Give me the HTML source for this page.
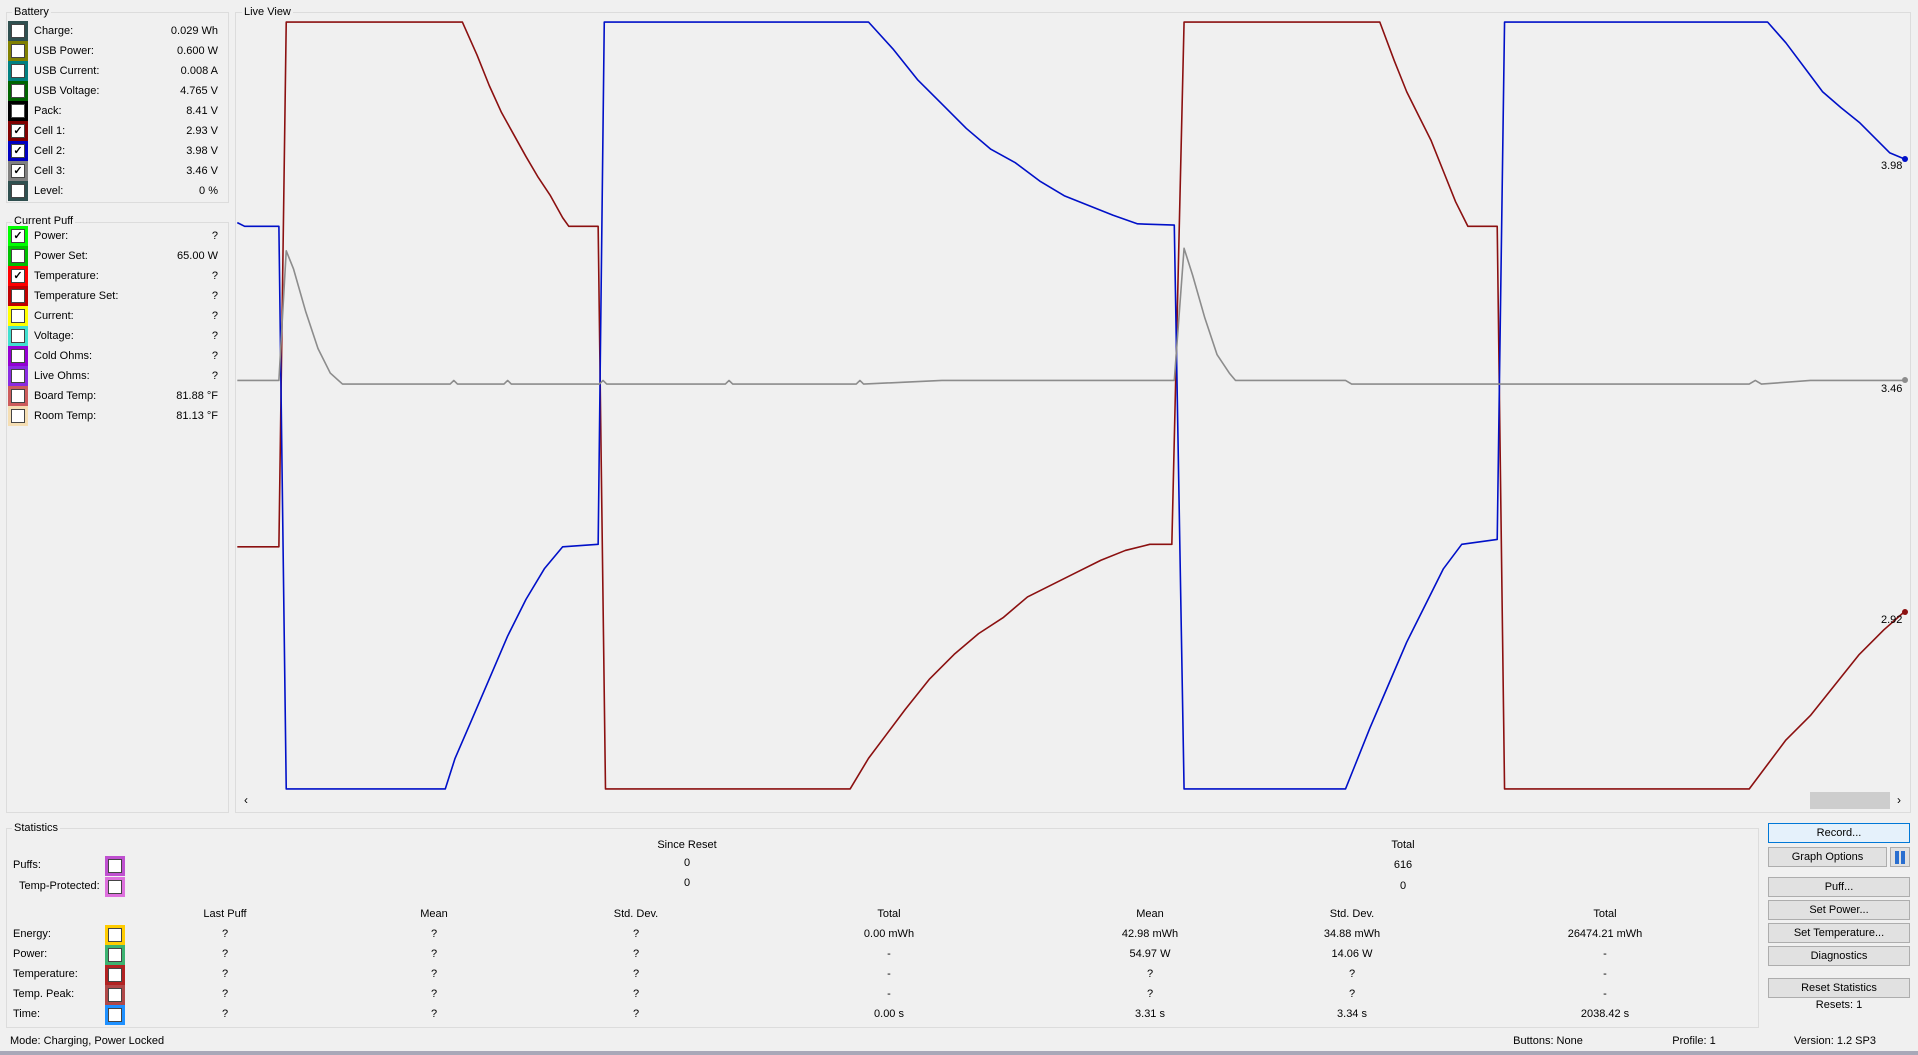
<!DOCTYPE html>
<html><head><meta charset="utf-8"><style>
body{margin:0;width:1918px;height:1055px;background:#f0f0f0;font-family:"Liberation Sans",sans-serif;font-size:11px;color:#000;position:relative;overflow:hidden}
.a{position:absolute;white-space:nowrap}
.gb{position:absolute;border:1px solid #dcdcdc;box-sizing:border-box}
.gt{position:absolute;background:#f0f0f0;padding:0 2px;line-height:12px}
.sw{position:absolute;width:20px;height:20px}
.sw i{position:absolute;left:3px;top:3px;width:12px;height:12px;background:#fff;border:1px solid #444;font-style:normal;font-size:11px;line-height:12px;text-align:center;font-weight:bold}
.btn{position:absolute;box-sizing:border-box;border:1px solid #adadad;background:#e1e1e1;text-align:center;line-height:18px}
.c{transform:translateX(-50%)}
</style></head><body>
<div class="gb" style="left:6px;top:12px;width:223px;height:191px"></div><div class="gt" style="left:12px;top:6px">Battery</div>
<div class="gb" style="left:6px;top:222px;width:223px;height:591px"></div><div class="gt" style="left:12px;top:215px">Current Puff</div>
<div class="gb" style="left:235px;top:12px;width:1676px;height:801px"></div><div class="gt" style="left:242px;top:6px">Live View</div>
<div class="gb" style="left:6px;top:828px;width:1753px;height:200px"></div><div class="gt" style="left:12px;top:822px">Statistics</div>
<div id="L"></div>
<div class="a" style="left:244px;top:793px;font-size:12px">‹</div>
<div class="a" style="left:1810px;top:792px;width:80px;height:17px;background:#cdcdcd"></div>
<div class="a" style="left:1897px;top:793px;font-size:12px">›</div>
<svg class="a" style="left:0;top:0" width="1918" height="1055">
<g transform="scale(1.22321)" fill="none" stroke-width="1.6" stroke-linejoin="round">
<polyline vector-effect="non-scaling-stroke" stroke="#8b1010" points="194,447 228,447 234,18 378,18 390,45 400,70 410,92 420,110 430,128 440,145 450,160 460,178 465,185 489,185 495,645 695,645 710,620 725,600 740,580 760,555 780,535 800,518 820,505 840,488 860,478 880,468 900,458 920,450 940,445 958,445 968,18 1128,18 1140,50 1150,75 1160,95 1170,115 1180,140 1190,165 1200,185 1224,185 1230,645 1430,645 1445,625 1460,605 1480,585 1500,560 1520,535 1540,515 1557,500"/>
<polyline vector-effect="non-scaling-stroke" stroke="#0010c8" points="194,182 200,185 228,185 234,645 364,645 372,620 385,590 400,555 415,520 430,490 445,465 460,447 489,445 494,18 710,18 730,40 750,65 770,85 790,105 810,122 830,133 850,148 870,160 890,168 910,176 930,183 960,184 968,645 1100,645 1108,625 1120,595 1135,560 1150,525 1165,495 1180,465 1195,445 1224,441 1230,18 1445,18 1460,35 1475,55 1490,75 1505,88 1520,100 1535,115 1545,125 1557,130"/>
<polyline vector-effect="non-scaling-stroke" stroke="#8c8c8c" points="194,311 228,311 234,205 240,220 250,255 260,285 270,305 280,314 368,314 371,311 374,314 412,314 415,311 418,314 490,314 493,311 496,314 593,314 596,311 599,314 700,314 703,311 706,314 770,311 960,311 968,203 975,225 985,260 995,290 1005,305 1010,311 1100,311 1105,314 1430,314 1435,311 1440,314 1480,311 1557,311"/>
</g>
<circle cx="1905" cy="159" r="3" fill="#0010c8"/><circle cx="1905" cy="380" r="3" fill="#8c8c8c"/><circle cx="1905" cy="612" r="3" fill="#8b1010"/>
</svg>
<div class="a" style="left:1881px;top:160px">3.98</div>
<div class="a" style="left:1881px;top:383px">3.46</div>
<div class="a" style="left:1881px;top:614px">2.92</div>
<div class="btn" style="left:1768px;top:823px;width:142px;height:20px;border-color:#0078d7;background:#e5f1fb">Record...</div>
<div class="btn" style="left:1768px;top:847px;width:119px;height:20px">Graph Options</div>
<div class="btn" style="left:1890px;top:847px;width:20px;height:20px"><span style="display:inline-block;width:4px;height:13px;background:#2a6fd0;margin:3px 1px"></span><span style="display:inline-block;width:4px;height:13px;background:#2a6fd0;margin:3px 1px"></span></div>
<div class="btn" style="left:1768px;top:877px;width:142px;height:20px">Puff...</div>
<div class="btn" style="left:1768px;top:900px;width:142px;height:20px">Set Power...</div>
<div class="btn" style="left:1768px;top:923px;width:142px;height:20px">Set Temperature...</div>
<div class="btn" style="left:1768px;top:946px;width:142px;height:20px">Diagnostics</div>
<div class="btn" style="left:1768px;top:978px;width:142px;height:20px">Reset Statistics</div>
<div class="a c" style="left:1839px;top:999px">Resets: 1</div>
<div class="a" style="left:10px;top:1035px">Mode: Charging, Power Locked</div>
<div class="a c" style="left:1548px;top:1035px">Buttons: None</div>
<div class="a c" style="left:1694px;top:1035px">Profile: 1</div>
<div class="a c" style="left:1835px;top:1035px">Version: 1.2 SP3</div>
<div class="a" style="left:0;top:1051px;width:1918px;height:4px;background:#a8a8b8"></div>
<script>
var h='';
var B=[["Charge:","0.029 Wh","#2f4f4f",0],["USB Power:","0.600 W","#808000",0],["USB Current:","0.008 A","#008080",0],["USB Voltage:","4.765 V","#006400",0],["Pack:","8.41 V","#000",0],["Cell 1:","2.93 V","#800000",1],["Cell 2:","3.98 V","#0000c0",1],["Cell 3:","3.46 V","#808080",1],["Level:","0 %","#2f4f4f",0]];
var P=[["Power:","?","#00ff00",1],["Power Set:","65.00 W","#00c000",0],["Temperature:","?","#ff0000",1],["Temperature Set:","?","#c00000",0],["Current:","?","#ffff00",0],["Voltage:","?","#40e0d0",0],["Cold Ohms:","?","#9400d3",0],["Live Ohms:","?","#8a2be2",0],["Board Temp:","81.88 °F","#cd5c5c",0],["Room Temp:","81.13 °F","#f5deb3",0]];
function rows(a,y0){a.forEach(function(r,i){var y=y0+i*20;h+='<div class="sw" style="left:8px;top:'+y+'px;background:'+r[2]+'"><i>'+(r[3]?'✓':'')+'</i></div><div class="a" style="left:34px;top:'+(y+4)+'px">'+r[0]+'</div><div class="a" style="right:1700px;top:'+(y+4)+'px">'+r[1]+'</div>';});}
rows(B,21);rows(P,226);
function t(x,y,s,c){h+='<div class="a'+(c?' c':'')+'" style="left:'+x+'px;top:'+(y-7)+'px">'+s+'</div>';}
function sw(y,col){h+='<div class="sw" style="left:105px;top:'+(y-10)+'px;background:'+col+'"><i></i></div>';}
t(687,846,"Since Reset",1);t(1403,846,"Total",1);
t(13,866,"Puffs:");sw(866,"#bf50d0");t(687,864,"0",1);t(1403,866,"616",1);
t(19,887,"Temp-Protected:");sw(887,"#dd70dd");t(687,884,"0",1);t(1403,887,"0",1);
var X=[225,434,636,889,1150,1352,1605];
["Last Puff","Mean","Std. Dev.","Total","Mean","Std. Dev.","Total"].forEach(function(s,i){t(X[i],915,s,1);});
var R=[["Energy:","#ffcc00",["?","?","?","0.00 mWh","42.98 mWh","34.88 mWh","26474.21 mWh"]],["Power:","#3cb371",["?","?","?","-","54.97 W","14.06 W","-"]],["Temperature:","#b22222",["?","?","?","-","?","?","-"]],["Temp. Peak:","#b04848",["?","?","?","-","?","?","-"]],["Time:","#1e90ff",["?","?","?","0.00 s","3.31 s","3.34 s","2038.42 s"]]];
R.forEach(function(r,i){var y=935+i*20;t(13,y,r[0]);sw(y,r[1]);r[2].forEach(function(v,j){t(X[j],y,v,1);});});
document.getElementById('L').innerHTML=h;
</script>
</body></html>
